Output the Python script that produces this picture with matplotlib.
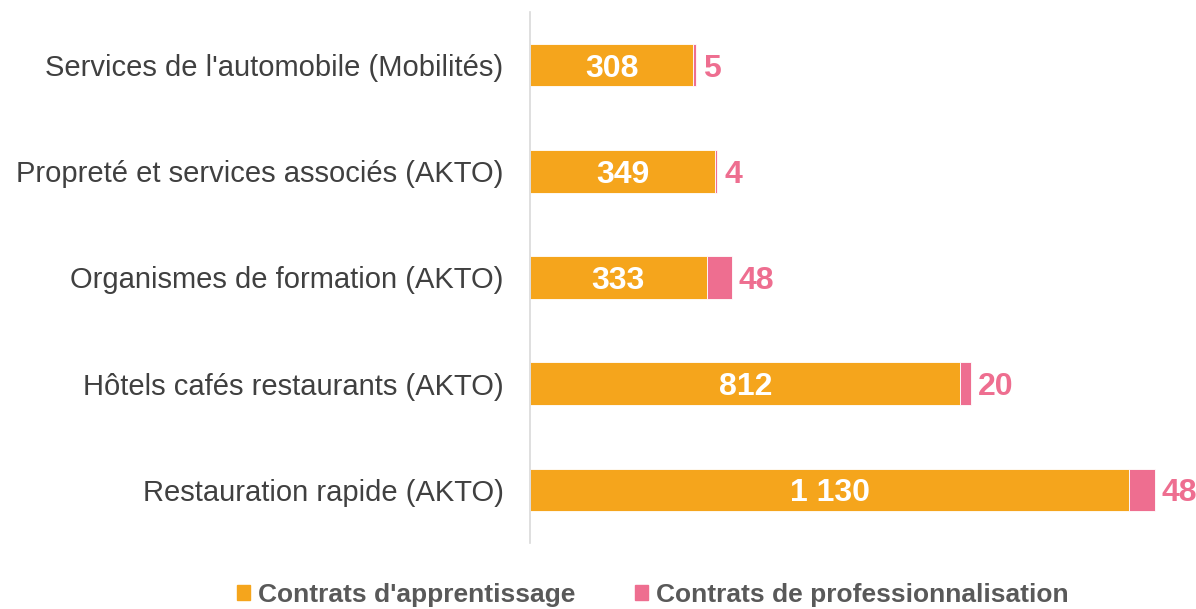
import matplotlib.pyplot as plt
from matplotlib.patches import Patch

plt.rcParams["font.family"] = ["Liberation Sans", "DejaVu Sans"]

categories = [
    "Services de l'automobile (Mobilités)",
    "Propreté et services associés (AKTO)",
    "Organismes de formation (AKTO)",
    "Hôtels cafés restaurants (AKTO)",
    "Restauration rapide (AKTO)",
]
apprentissage = [308, 349, 333, 812, 1130]
professionnalisation = [5, 4, 48, 20, 48]

ORANGE = "#F5A51C"
PINK = "#EE6E90"


def fmt(v):
    return f"{v:,}".replace(",", " ")


fig = plt.figure(figsize=(11.96, 6.09), dpi=100)
ax = fig.add_axes([0.4431, 0.1084, 0.5435, 0.8719])

y = list(range(len(categories)))
ax.barh(y, apprentissage, height=0.4, color=ORANGE, edgecolor="white", linewidth=0.6)
ax.barh(y, professionnalisation, left=apprentissage, height=0.4, color=PINK,
        edgecolor="white", linewidth=0.6)

for i, (a, p) in enumerate(zip(apprentissage, professionnalisation)):
    ax.text(a / 2, i, fmt(a), ha="center", va="center_baseline", color="white",
            fontsize=23, fontweight="bold")
    ax.annotate(fmt(p), (a + p, i), xytext=(7, 0), textcoords="offset pixels",
                ha="left", va="center_baseline", color=PINK,
                fontsize=23, fontweight="bold")

ax.set_xlim(0, 1226)
ax.set_ylim(4.5, -0.5)
ax.set_yticks(y)
ax.set_yticklabels(categories, fontsize=21, color="#404040")
ax.tick_params(axis="y", length=0, pad=19)
ax.set_xticks([])
for s in ["top", "right", "bottom"]:
    ax.spines[s].set_visible(False)
ax.spines["left"].set_color("#D9D9D9")
ax.spines["left"].set_linewidth(1.2)

handles = [Patch(color=ORANGE), Patch(color=PINK)]
fig.legend(handles, ["Contrats d'apprentissage", "Contrats de professionnalisation"],
           loc="center", bbox_to_anchor=(0.546, 0.023), ncol=2, frameon=False,
           handlelength=0.5, handleheight=0.5, handletextpad=0.3, columnspacing=2.25,
           prop={"size": 19, "weight": "bold"}, labelcolor="#595959")

fig.savefig("out.png", dpi=100)
